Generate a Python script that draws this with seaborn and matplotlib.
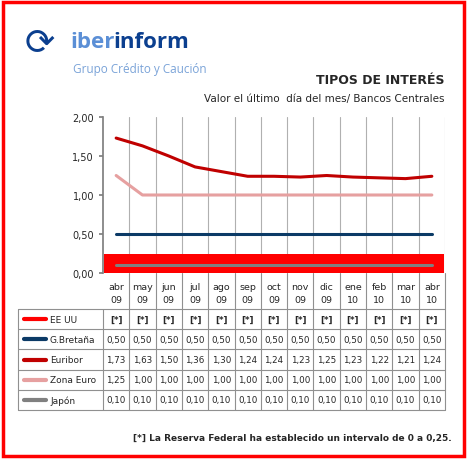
import matplotlib
matplotlib.use("Agg")
import matplotlib.pyplot as plt
import seaborn as sns
import pandas as pd
from matplotlib.patches import Rectangle

months = ["abr\n09","may\n09","jun\n09","jul\n09","ago\n09","sep\n09","oct\n09","nov\n09","dic\n09","ene\n10","feb\n10","mar\n10","abr\n10"]
gb = [0.50]*13
euribor = [1.73,1.63,1.50,1.36,1.30,1.24,1.24,1.23,1.25,1.23,1.22,1.21,1.24]
zona = [1.25,1.00,1.00,1.00,1.00,1.00,1.00,1.00,1.00,1.00,1.00,1.00,1.00]
japon = [0.10]*13
eeuu_low, eeuu_high = 0.0, 0.25
series_names = ["EE UU","G.Bretaña","Euribor","Zona Euro","Japón"]
colors = ["#ff0000","#0b3a66","#c00000","#e6a0a0","#808080"]

sns.set_theme(style="white")
plt.rcParams['font.family'] = ['DejaVu Sans']
W, H = 467, 460
fig = plt.figure(figsize=(4.67, 4.6), dpi=100)
fig.patch.set_facecolor("white")
fig.add_artist(Rectangle((3/W, 3/H), 1-6/W, 1-6/H, transform=fig.transFigure, fill=False, ec="#ff0000", lw=2.5))

def fx(p): return p / W
def fy(p): return 1 - p / H

# logo
fig.text(fx(70), fy(43), "iber", color="#5b8fd6", fontsize=16, fontweight="bold", va="center", family="Open Sans")
fig.text(fx(113), fy(43), "inform", color="#0b3f8f", fontsize=16, fontweight="bold", va="center", family="Open Sans")
fig.text(fx(73), fy(69), "Grupo Crédito y Caución", color="#7aa3d8", fontsize=8.5, va="center", family="Open Sans")
fig.text(fx(40), fy(43), "⟳", color="#0b3f8f", fontsize=26, va="center", ha="center")
fig.text(fx(445), fy(81), "TIPOS DE INTERÉS", fontsize=9, fontweight="bold", ha="right", va="center")
fig.text(fx(445), fy(99), "Valor el último  día del mes/ Bancos Centrales", fontsize=7.5, ha="right", va="center")

x0, x1 = 103, 445
ax = fig.add_axes([fx(x0), fy(274), fx(x1 - x0), (274 - 118) / H])
xs = list(range(13))
ax.fill_between([-0.5+0.05, 12.5-0.05], eeuu_low, eeuu_high, color=colors[0], lw=0, zorder=2)
df = pd.DataFrame({"x": xs*4, "y": gb+euribor+zona+japon,
                   "s": ["G.Bretaña"]*13+["Euribor"]*13+["Zona Euro"]*13+["Japón"]*13})
sns.lineplot(data=df, x="x", y="y", hue="s", palette=dict(zip(series_names[1:], colors[1:])),
             lw=2.2, legend=False, ax=ax, zorder=3)
ax.set_xlim(-0.5, 12.5); ax.set_ylim(0, 2)
ax.set_yticks([0, 0.5, 1, 1.5, 2])
ax.set_yticklabels(["0,00","0,50","1,00","1,50","2,00"], fontsize=7)
ax.set_xticks([i+0.5 for i in range(13)], minor=False)
ax.set_xticklabels([])
ax.grid(axis="x", color="#b0b0b0", lw=0.8)
ax.grid(axis="y", visible=False)
for s in ["top","right","bottom"]: ax.spines[s].set_visible(False)
ax.spines["left"].set_color("#808080")
ax.tick_params(axis="y", length=3, left=True, color="#808080")
ax.tick_params(axis="x", length=0)
ax.set_xlabel(""); ax.set_ylabel("")

# table
tax = fig.add_axes([0, 0, 1, 1]); tax.set_xlim(0, W); tax.set_ylim(H, 0); tax.axis("off")
cw = (x1 - x0) / 13
lc = "#909090"
row_top = 310; rh = 20.2
for i, m in enumerate(months):
    tax.text(x0 + cw*(i+0.5), 294, m, ha="center", va="center", fontsize=6.8, linespacing=1.5)
rows = [["[*]"]*13, [f"{v:.2f}".replace(".", ",") for v in gb],
        [f"{v:.2f}".replace(".", ",") for v in euribor],
        [f"{v:.2f}".replace(".", ",") for v in zona],
        [f"{v:.2f}".replace(".", ",") for v in japon]]
for r, (name, vals) in enumerate(zip(series_names, rows)):
    yc = row_top + rh*(r+0.5)
    tax.plot([24, 46], [yc, yc], color=colors[r], lw=3)
    tax.text(50, yc, name, fontsize=6.5, va="center")
    for i, v in enumerate(vals):
        tax.text(x0 + cw*(i+0.5), yc, v, ha="center", va="center", fontsize=6.3,
                 fontweight="bold" if r == 0 else "normal")
for r in range(6):
    tax.plot([18, x1], [row_top + rh*r]*2, color=lc, lw=0.8)
tax.plot([18, 18], [row_top, row_top+5*rh], color=lc, lw=0.8)
for i in range(14):
    tax.plot([x0 + cw*i]*2, [274 if i else row_top, row_top+5*rh], color=lc, lw=0.8)
fig.text(fx(452), fy(438), "[*] La Reserva Federal ha establecido un intervalo de 0 a 0,25.",
         fontsize=6.5, fontweight="bold", ha="right", va="center", family="Liberation Sans Narrow" )
fig.savefig("out.png", dpi=100)
